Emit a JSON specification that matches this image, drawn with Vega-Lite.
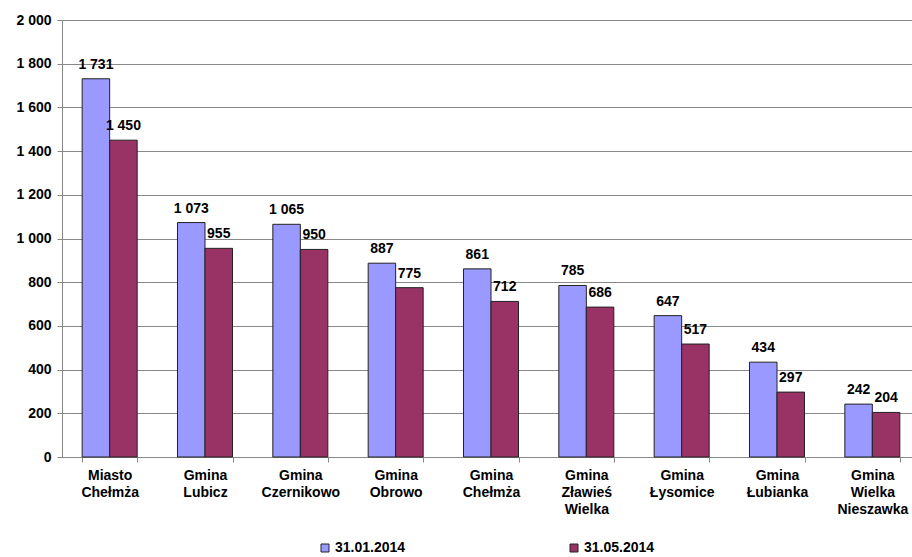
{
  "$schema": "https://vega.github.io/schema/vega-lite/v6.json",
  "autosize": "none",
  "width": 858,
  "height": 437,
  "padding": {"left": 62, "top": 20, "right": 0, "bottom": 100},
  "background": "white",
  "config": {
    "locale": {"number": {"decimal": ",", "thousands": " ", "grouping": [3], "currency": ["", ""]}},
    "font": "Liberation Sans",
    "view": {"stroke": null}
  },
  "data": {
    "values": [
      {"gmina": "Miasto Chełmża", "data": "31.01.2014", "value": 1731},
      {"gmina": "Miasto Chełmża", "data": "31.05.2014", "value": 1450},
      {"gmina": "Gmina Lubicz", "data": "31.01.2014", "value": 1073},
      {"gmina": "Gmina Lubicz", "data": "31.05.2014", "value": 955},
      {"gmina": "Gmina Czernikowo", "data": "31.01.2014", "value": 1065},
      {"gmina": "Gmina Czernikowo", "data": "31.05.2014", "value": 950},
      {"gmina": "Gmina Obrowo", "data": "31.01.2014", "value": 887},
      {"gmina": "Gmina Obrowo", "data": "31.05.2014", "value": 775},
      {"gmina": "Gmina Chełmża", "data": "31.01.2014", "value": 861},
      {"gmina": "Gmina Chełmża", "data": "31.05.2014", "value": 712},
      {"gmina": "Gmina Zławieś Wielka", "data": "31.01.2014", "value": 785},
      {"gmina": "Gmina Zławieś Wielka", "data": "31.05.2014", "value": 686},
      {"gmina": "Gmina Łysomice", "data": "31.01.2014", "value": 647},
      {"gmina": "Gmina Łysomice", "data": "31.05.2014", "value": 517},
      {"gmina": "Gmina Łubianka", "data": "31.01.2014", "value": 434},
      {"gmina": "Gmina Łubianka", "data": "31.05.2014", "value": 297},
      {"gmina": "Gmina Wielka Nieszawka", "data": "31.01.2014", "value": 242},
      {"gmina": "Gmina Wielka Nieszawka", "data": "31.05.2014", "value": 204}
    ]
  },
  "encoding": {
    "x": {
      "field": "gmina",
      "type": "nominal",
      "sort": null,
      "scale": {"paddingInner": 0.423, "paddingOuter": 0.2115},
      "axis": {
        "title": null,
        "labelAngle": 0,
        "labelExpr": "datum.value ? split(datum.value, ' ') : ''",
        "labelFont": "Liberation Sans",
        "labelFontWeight": "bold",
        "labelFontSize": 14,
        "labelColor": "#000000",
        "labelLineHeight": 17,
        "labelPadding": 6,
        "tickBand": "extent",
        "tickSize": 5,
        "tickColor": "#888888",
        "domainColor": "#888888",
        "labelBaseline": "top"
      }
    },
    "xOffset": {"field": "data", "type": "nominal"},
    "y": {
      "field": "value",
      "type": "quantitative",
      "scale": {"domain": [0, 2000], "nice": false},
      "axis": {
        "title": null,
        "values": [0, 200, 400, 600, 800, 1000, 1200, 1400, 1600, 1800, 2000],
        "format": ",d",
        "labelFont": "Liberation Sans",
        "labelFontWeight": "bold",
        "labelFontSize": 14,
        "labelColor": "#000000",
        "labelPadding": 6,
        "tickSize": 5,
        "tickColor": "#888888",
        "domainColor": "#888888",
        "gridColor": "#888888",
        "gridWidth": 1
      }
    }
  },
  "layer": [
    {
      "mark": {"type": "bar", "stroke": "#222222", "strokeWidth": 1},
      "encoding": {
        "color": {
          "field": "data",
          "type": "nominal",
          "scale": {"range": ["#9999FF", "#993366"]},
          "legend": {
            "title": null,
            "orient": "none",
            "direction": "horizontal",
            "legendX": 256,
            "legendY": 521,
            "symbolType": "square",
            "symbolSize": 64,
            "symbolStrokeColor": "#222222",
            "symbolStrokeWidth": 1,
            "labelFont": "Liberation Sans",
            "labelFontWeight": "bold",
            "labelFontSize": 14,
            "labelColor": "#000000",
            "labelOffset": 3,
            "columnPadding": 161
          }
        }
      }
    },
    {
      "mark": {"type": "text", "baseline": "bottom", "dy": -7, "fontWeight": "bold", "fontSize": 14, "font": "Liberation Sans", "color": "#000000"},
      "encoding": {
        "text": {"field": "value", "type": "quantitative", "format": ",d"}
      }
    }
  ]
}
